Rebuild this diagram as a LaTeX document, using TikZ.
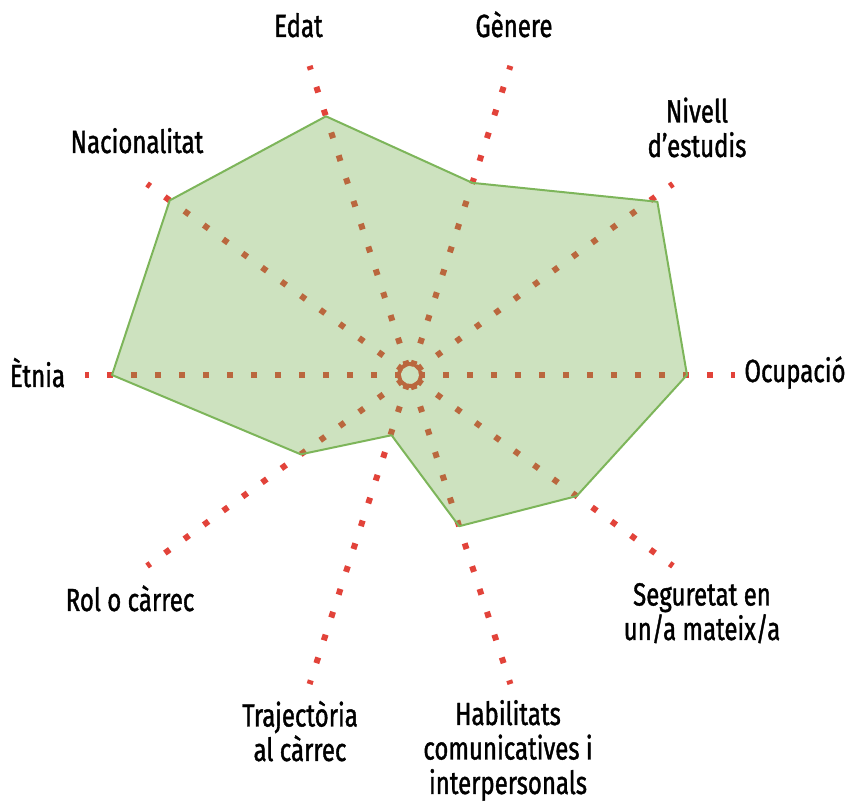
\documentclass[tikz,border=0pt]{standalone}
\usepackage{fontspec}
\setmainfont{Fira Sans}[FakeStretch=0.75, FakeBold=1.2]
\definecolor{axisred}{HTML}{E2433A}
\definecolor{areagreen}{HTML}{70AD47}
\definecolor{edgegreen}{HTML}{7DB55A}
\begin{document}
\begin{tikzpicture}[x=1pt,y=1pt,
  axisline/.style={draw=axisred, line width=6pt, dash pattern=on 6pt off 18pt, dash phase=15pt},
  ringline/.style={draw=axisred, line width=4pt, dash pattern=on 4pt off 3pt},
  areafill/.style={fill=areagreen, fill opacity=0.35},
  areaedge/.style={draw=edgegreen, line width=2pt, line join=round},
  lbl/.style={font=\fontsize{32}{34.5}\selectfont, inner sep=0pt, anchor=base, align=center, text=black}]
\useasboundingbox (0,0) rectangle (847,805);
\begin{scope}[shift={(410,430)}]
  \coordinate (c) at (0,0);
  \foreach \ang/\nm in {0/a1,36/a2,72/a3,108/a4,144/a5,180/a6,216/a7,252/a8,288/a9,324/a10}
    \coordinate (\nm) at (\ang:325);
  \foreach \nm in {a1,a2,a3,a4,a5,a6,a7,a8,a9,a10}
    \draw[axisline] (c) -- (\nm);
  \draw[ringline] (c) circle (11);
  \coordinate (v1) at (0:277);
  \coordinate (v2) at (35:302);
  \coordinate (v3) at (72:202);
  \coordinate (v4) at (108:272);
  \coordinate (v5) at (144:297);
  \coordinate (v6) at (180:298);
  \coordinate (v7) at (216:135);
  \coordinate (v8) at (253:63);
  \coordinate (v9) at (288:159);
  \coordinate (v10) at (324:206);
  \fill[areafill] (v1) -- (v2) -- (v3) -- (v4) -- (v5) -- (v6) -- (v7) -- (v8) -- (v9) -- (v10) -- cycle;
  \draw[areaedge] (v1) -- (v2) -- (v3) -- (v4) -- (v5) -- (v6) -- (v7) -- (v8) -- (v9) -- (v10) -- cycle;
\end{scope}
\node[lbl] (edat) at (298.5,768) {Edat};
\node[lbl] (genere) at (514,768) {Gènere};
\node[lbl] (nivell) at (697,648) {Nivell\\d’estudis};
\node[lbl] (nacio) at (137,652) {Nacionalitat};
\node[lbl] (etnia) at (37.5,418) {Ètnia};
\node[lbl] (ocup) at (795,423) {Ocupació};
\node[lbl] (rol) at (130,194) {Rol o càrrec};
\node[lbl] (segur) at (702,165) {Seguretat en\\un/a mateix/a};
\node[lbl] (traj) at (300,44) {Trajectòria\\al càrrec};
\node[lbl] (habil) at (508,11) {Habilitats\\comunicatives i\\interpersonals};
\end{tikzpicture}
\end{document}
